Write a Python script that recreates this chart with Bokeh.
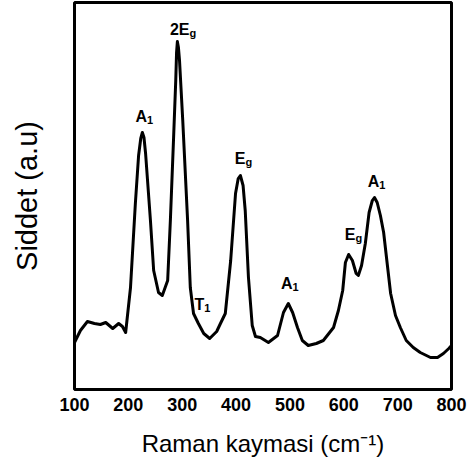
from bokeh.plotting import figure
from bokeh.models import FixedTicker, Range1d
from bokeh.embed import file_html
from bokeh.resources import INLINE
from bokeh.core.properties import value

# Raman spectrum
raman_shift = [100, 111, 124, 137, 148, 158, 171, 182, 189, 195, 204, 213, 219, 223, 226,
               229, 232, 241, 247, 256, 263, 273, 278, 284, 288, 289.5, 291, 293, 295, 301,
               310, 315, 321, 330, 340, 351, 364, 371, 380, 390, 399, 404, 408, 413, 417,
               423, 430, 436, 445, 460, 477, 488, 497, 505, 514, 523, 534, 549, 562, 581,
               590, 598, 603, 609, 616, 623, 627, 633, 640, 647, 653, 657, 662, 668, 674,
               681, 687, 696, 705, 716, 729, 742, 761, 774, 785, 795, 800]
intensity = [48, 60, 69, 67, 66, 68, 62, 67, 64, 58, 103, 187, 235, 252, 258,
             253, 237, 170, 120, 98, 95, 110, 170, 253, 310, 338, 349, 343, 330, 270,
             170, 103, 77, 67, 57, 52, 59, 67, 77, 130, 197, 212, 215, 205, 180,
             113, 65, 54, 53, 48, 55, 78, 87, 78, 63, 50, 45, 47, 50, 63,
             80, 100, 128, 136, 130, 117, 115, 125, 147, 178, 190, 193, 188, 175, 158,
             125, 97, 75, 63, 50, 43, 38, 33, 33, 37, 42, 45]

x_ticks = [100, 200, 300, 400, 500, 600, 700, 800]
x_tick_labels = ["100", "200", "300", "400", "500", "600", "700", "800"]

peak_main = ["A", "2E", "E", "T", "A", "E", "A"]
peak_sub = ["1", "g", "g", "1", "1", "g", "1"]
peak_x = [234.6, 313.5, 417.5, 341, 504.8, 621.7, 666]
peak_y = [274, 361, 232, 86, 107, 156, 209]

p = figure(width=468, height=464, output_backend="svg", toolbar_location=None,
           x_range=Range1d(100, 800), y_range=Range1d(1, 388),
           min_border_left=74, min_border_right=17, min_border_top=2,
           min_border_bottom=75)

p.line(raman_shift, intensity, line_color="black", line_width=3, line_join="round")

p.text(x=peak_x, y=peak_y, text=peak_main, text_align="right",
       text_baseline="alphabetic", text_font=value("Liberation Sans"),
       text_font_style="bold", text_font_size="16px", text_color="black")
p.text(x=peak_x, y=peak_y, text=peak_sub, text_align="left", y_offset=3,
       text_baseline="alphabetic", text_font=value("Liberation Sans"),
       text_font_style="bold", text_font_size="11px", text_color="black")

p.grid.visible = False
p.outline_line_color = "black"
p.outline_line_width = 3
p.outline_line_alpha = 1

xa = p.xaxis[0]
xa.ticker = FixedTicker(ticks=x_ticks)
xa.major_label_overrides = {t: l for t, l in zip(x_ticks, x_tick_labels)}
xa.major_tick_out = 0
xa.major_tick_in = 0
xa.minor_tick_out = 0
xa.minor_tick_in = 0
xa.major_label_standoff = 8
xa.major_label_text_font = "Liberation Sans"
xa.major_label_text_font_style = "bold"
xa.major_label_text_font_size = "18px"
xa.major_label_text_color = "black"
xa.axis_line_color = None
xa.axis_label = "Raman kaymasi (cm\u207b\u00b9)"
xa.axis_label_text_font = "Liberation Sans"
xa.axis_label_text_font_style = "normal"
xa.axis_label_text_font_size = "24px"
xa.axis_label_text_color = "black"
xa.axis_label_standoff = 16

ya = p.yaxis[0]
ya.ticker = FixedTicker(ticks=[])
ya.major_tick_out = 0
ya.major_tick_in = 0
ya.minor_tick_out = 0
ya.minor_tick_in = 0
ya.major_label_standoff = 0
ya.axis_line_color = None
ya.axis_label = "Siddet (a.u)"
ya.axis_label_text_font = "Liberation Sans"
ya.axis_label_text_font_style = "normal"
ya.axis_label_text_font_size = "29px"
ya.axis_label_text_color = "black"
ya.axis_label_standoff = 32

open("out.html", "w").write(file_html(p, INLINE))
